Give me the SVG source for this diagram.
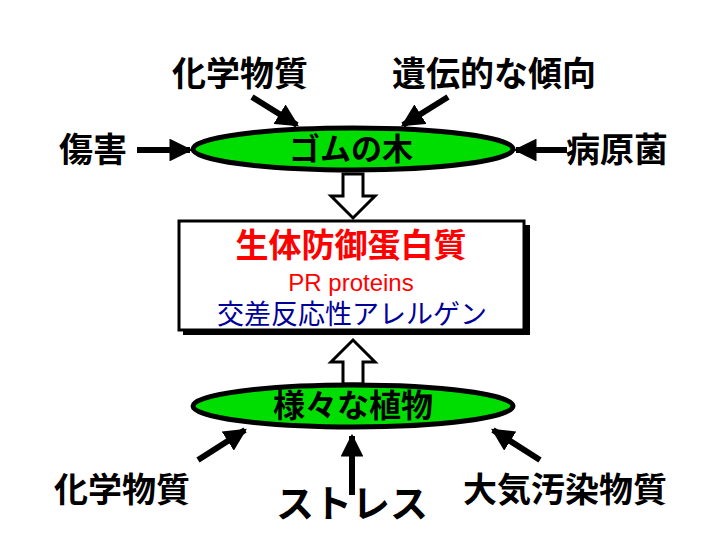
<svg xmlns="http://www.w3.org/2000/svg" width="707" height="548" viewBox="0 0 707 548">
<defs>
<marker id="ah" viewBox="0 0 10 10" refX="9" refY="5" markerWidth="3.8" markerHeight="3.8" orient="auto"><path d="M0,0 L10,5 L0,10 z" fill="#000"/></marker>
</defs>
<style>
text{font-family:"Noto Sans CJK JP","Liberation Sans",sans-serif;font-weight:bold;text-anchor:middle}
.lb{font-size:34px;fill:#000}
.ln{stroke:#000;stroke-width:6;fill:none;marker-end:url(#ah)}
.el{fill:#00dd00;stroke:#000;stroke-width:5}
.ho{fill:#fff;stroke:#000;stroke-width:3;stroke-linejoin:miter}
</style>
<rect width="707" height="548" fill="#fff"/>
<g id="connectors">
<line class="ln" x1="252" y1="97" x2="297" y2="125"/>
<line class="ln" x1="448" y1="97" x2="403" y2="125"/>
<line class="ln" x1="137" y1="150" x2="190" y2="150"/>
<line class="ln" x1="567" y1="150" x2="516" y2="150"/>
<line class="ln" x1="198" y1="460" x2="245" y2="430"/>
<line class="ln" x1="352" y1="495" x2="352" y2="436"/>
<line class="ln" x1="540" y1="460" x2="493" y2="430"/>
<path class="ho" d="M343,174 H363 V196 H375 L353,218 L331,196 H343 Z"/>
<path class="ho" d="M343,384 H363 V362 H375 L353,340 L331,362 H343 Z"/>
</g>
<g id="gomu"><ellipse class="el" cx="353" cy="149" rx="160" ry="21"/><text x="351" y="160" style="font-size:31px">ゴムの木</text></g>
<g id="plants"><ellipse class="el" cx="353" cy="406" rx="160" ry="21"/><text x="353" y="417" style="font-size:32px">様々な植物</text></g>
<g id="box">
<rect x="183" y="225" width="347" height="110" fill="#000"/>
<rect x="179" y="221" width="345" height="109" fill="#fff" stroke="#000" stroke-width="3"/>
<text x="351" y="257" style="font-size:33px;fill:#ff0000">生体防御蛋白質</text>
<text x="351" y="291" style="font-size:24px;fill:#ff0000;font-weight:normal;font-family:'Liberation Sans',sans-serif">PR proteins</text>
<text x="352" y="324" style="font-size:27px;fill:#000099;font-weight:normal">交差反応性アレルゲン</text>
</g>
<g id="l1"><text class="lb" x="240" y="86">化学物質</text></g>
<g id="l2"><text class="lb" x="494" y="86">遺伝的な傾向</text></g>
<g id="l3"><text class="lb" x="93" y="162">傷害</text></g>
<g id="l4"><text class="lb" x="617" y="162">病原菌</text></g>
<g id="l5"><text class="lb" x="122" y="502">化学物質</text></g>
<g id="l6"><text class="lb" x="352" y="517" style="font-size:38px">ストレス</text></g>
<g id="l7"><text class="lb" x="565" y="502">大気汚染物質</text></g>
</svg>
